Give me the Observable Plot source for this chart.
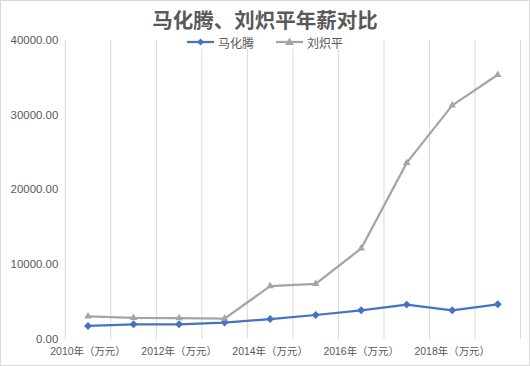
<!DOCTYPE html>
<html>
<head>
<meta charset="utf-8">
<script src="https://cdn.jsdelivr.net/npm/d3@7"></script>
<script src="https://cdn.jsdelivr.net/npm/@observablehq/plot@0.6"></script>
<style>
  html, body { margin: 0; padding: 0; background: #fff; }
  #chart { position: relative; width: 530px; height: 366px; box-sizing: border-box; border: 1px solid #d9d9d9; overflow: hidden; font-family: "Liberation Sans", "Noto Sans CJK SC", sans-serif; }
  #chart svg.plot { position: absolute; left: -1px; top: -1px; }
  #title { position: absolute; left: 0; width: 528px; top: 7.5px; height: 20px; text-align: center; font-size: 20.5px; font-weight: bold; color: #595959; font-family: "Noto Sans CJK SC", sans-serif; line-height: 20px; z-index: 2; }
  #legend { position: absolute; left: 0; width: 528px; top: 34.5px; height: 13px; display: flex; justify-content: center; gap: 22px; font-size: 12px; color: #595959; font-family: "Noto Sans CJK SC", sans-serif; line-height: 13px; z-index: 2; }
  .item { display: flex; align-items: center; gap: 4px; background: #fff; }
</style>
</head>
<body>
<div id="chart">
  <div id="title"></div>
  <div id="legend"></div>
</div>
<script>
const title = "马化腾、刘炽平年薪对比";
const years = [2010, 2011, 2012, 2013, 2014, 2015, 2016, 2017, 2018, 2019];
const seriesNames = ["马化腾", "刘炽平"];
const maHuateng = [1780, 2000, 2000, 2230, 2700, 3240, 3870, 4630, 3870, 4670];
const liuChiping = [3050, 2850, 2830, 2750, 7100, 7400, 12150, 23600, 31300, 35400];
const yTicks = [0, 10000, 20000, 30000, 40000];
const xTicks = [2010, 2012, 2014, 2016, 2018];
const colors = ["#4472C4", "#A5A5A5"];
const symbols = ["diamond2", "triangle2"];

const rows = [];
years.forEach((y, i) => {
  rows.push({year: y, value: maHuateng[i], series: seriesNames[0]});
  rows.push({year: y, value: liuChiping[i], series: seriesNames[1]});
});
const gridX = years.map(y => y - 0.5).concat([years[years.length - 1] + 0.5]);

document.getElementById("title").textContent = title;
const legend = document.getElementById("legend");
seriesNames.forEach((name, i) => {
  const item = document.createElement("div");
  item.className = "item";
  const sym = i === 0
    ? `<path d="M13.5,2.5 L17,6 L13.5,9.5 L10,6 Z" fill="${colors[i]}"/>`
    : `<path d="M13.5,1.5 L18,9 L9,9 Z" fill="${colors[i]}"/>`;
  item.innerHTML = `<svg width="27" height="12"><line x1="0" x2="27" y1="6" y2="6" stroke="${colors[i]}" stroke-width="2.25"/>${sym}</svg><span>${name}</span>`;
  legend.appendChild(item);
});

const plot = Plot.plot({
  width: 530,
  height: 366,
  marginLeft: 64,
  marginRight: 9,
  marginTop: 39,
  marginBottom: 27,
  style: {fontFamily: "'Liberation Sans', 'Noto Sans CJK SC', sans-serif", color: "#595959", background: "transparent"},
  x: {domain: [years[0] - 0.5, years[years.length - 1] + 0.5], label: null},
  y: {domain: [0, 40000], label: null},
  color: {domain: seriesNames, range: colors},
  symbol: {domain: seriesNames, range: symbols},
  marks: [
    Plot.ruleX(gridX, {stroke: "#d9d9d9", strokeWidth: 1}),
    Plot.axisY({ticks: yTicks, tickFormat: d => d.toFixed(2), tickSize: 0, tickPadding: 7, fontSize: 11.5, fill: "#595959", label: null}),
    Plot.axisX({ticks: xTicks, tickFormat: d => `${d}年（万元）`, tickSize: 0, tickPadding: 8, fontSize: 10.5, fill: "#595959", label: null}),
    Plot.line(rows, {x: "year", y: "value", z: "series", stroke: "series", strokeWidth: 2.25, strokeLinejoin: "round", curve: "linear"}),
    Plot.dot(rows, {x: "year", y: "value", fill: "series", symbol: "series", r: 3.6, stroke: "none"})
  ]
});
document.getElementById("chart").appendChild(plot);
</script>
</body>
</html>
